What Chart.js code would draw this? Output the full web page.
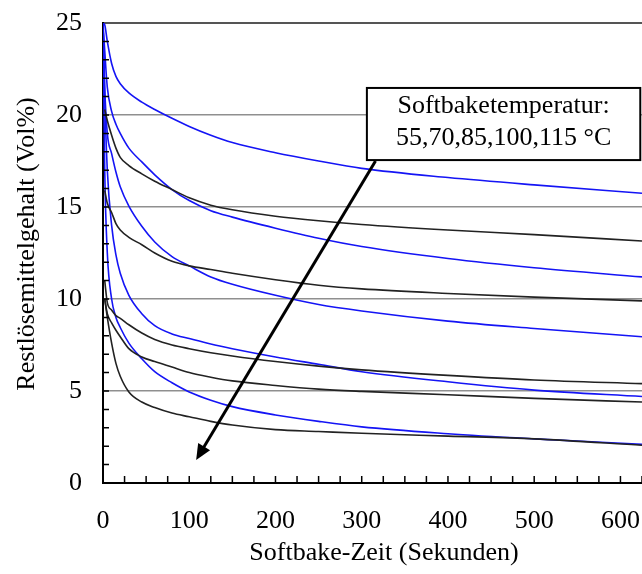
<!DOCTYPE html>
<html>
<head>
<meta charset="utf-8">
<script src="https://cdn.jsdelivr.net/npm/chart.js@4"></script>
<style>
  body { margin: 0; background: #fff; }
  #wrap { width: 642px; height: 574px; }
</style>
</head>
<body>
<div id="wrap"><canvas id="chart"></canvas></div>
<script>
// Softbake-Zeit (Sekunden)
var zeiten = [0, 2, 5, 10, 15, 20, 30, 45, 60, 80, 100, 125, 150, 200, 250, 300, 400, 500, 625]

// Restlösemittelgehalt (Vol%) - blaue Kurven
var blau1 = [25, 24.9, 24.0, 22.8, 22.1, 21.7, 21.2, 20.7, 20.3, 19.82, 19.38, 18.9, 18.5, 17.95, 17.5, 17.1, 16.6, 16.2, 15.75]
var blau2 = [25, 23.5, 21.5, 20.2, 19.5, 19.0, 18.2, 17.45, 16.75, 15.95, 15.35, 14.8, 14.45, 13.85, 13.3, 12.85, 12.2, 11.7, 11.2]
var blau3 = [25, 21.5, 19.0, 17.9, 16.9, 16.1, 15.05, 13.95, 13.1, 12.3, 11.8, 11.2, 10.8, 10.2, 9.7, 9.35, 8.8, 8.4, 7.95]
var blau4 = [25, 21, 17.0, 14.0, 12.4, 11.4, 10.2, 9.2, 8.55, 8.1, 7.85, 7.55, 7.3, 6.85, 6.45, 6.05, 5.5, 5.05, 4.7]
var blau5 = [25, 17, 12.5, 10.0, 9.0, 8.45, 7.6, 6.75, 6.05, 5.45, 4.95, 4.5, 4.15, 3.7, 3.35, 3.05, 2.68, 2.4, 2.1]

// schwarze Kurven
var schwarz1 = [null, 20.3, 19.7, 18.9, 18.2, 17.7, 17.25, 16.8, 16.4, 15.95, 15.5, 15.1, 14.85, 14.5, 14.25, 14.05, 13.75, 13.5, 13.15]
var schwarz2 = [null, 15.9, 15.2, 14.7, 14.1, 13.75, 13.35, 12.95, 12.5, 12.05, 11.8, 11.6, 11.4, 11.05, 10.75, 10.55, 10.3, 10.1, 9.9]
var schwarz3 = [null, 11.0, 9.8, 9.4, 9.1, 8.95, 8.6, 8.15, 7.8, 7.5, 7.3, 7.08, 6.9, 6.6, 6.35, 6.15, 5.85, 5.6, 5.4]
var schwarz4 = [null, 10.0, 9.2, 8.7, 8.3, 7.95, 7.3, 6.85, 6.6, 6.3, 6.0, 5.75, 5.55, 5.3, 5.1, 4.98, 4.8, 4.6, 4.4]
var schwarz5 = [null, 10.0, 9.0, 7.6, 6.5, 5.8, 4.95, 4.4, 4.1, 3.8, 3.6, 3.35, 3.15, 2.9, 2.8, 2.7, 2.55, 2.4, 2.05]

var yTicks = [0, 5, 10, 15, 20, 25]
var xTicks = [0, 100, 200, 300, 400, 500, 600]

var FONT = "'Liberation Serif', 'Times New Roman', serif"

function punkte(werte) {
  return zeiten.map(function (t, i) { return { x: t, y: werte[i] } })
}

function kurve(werte, farbe) {
  return {
    data: punkte(werte),
    borderColor: farbe,
    borderWidth: 1.6,
    pointRadius: 0,
    fill: false,
    cubicInterpolationMode: 'monotone',
    spanGaps: true,
  }
}

var BLAU = '#1414f5'
var SCHWARZ = '#222'

// kleine Teilstriche nach innen, Achsentitel, Pfeil und Textkasten
var extras = {
  id: 'extras',
  afterDatasetsDraw: function (chart) {
    var ctx = chart.ctx
    var xs = chart.scales.x
    var ys = chart.scales.y
    var area = chart.chartArea
    ctx.save()
    ctx.strokeStyle = '#000'
    ctx.lineWidth = 1.5
    ctx.beginPath()
    for (var v = 25; v <= 625; v += 25) {
      var px = xs.getPixelForValue(v)
      ctx.moveTo(px, area.bottom)
      ctx.lineTo(px, area.bottom - 7)
    }
    for (var w = 1; w < 25; w++) {
      var py = ys.getPixelForValue(w)
      ctx.moveTo(area.left, py)
      ctx.lineTo(area.left + 6, py)
    }
    ctx.stroke()

    // Achsentitel
    ctx.fillStyle = '#000'
    ctx.font = '26px ' + FONT
    ctx.textAlign = 'center'
    ctx.textBaseline = 'middle'
    ctx.fillText('Softbake-Zeit (Sekunden)', 384, 553)
    ctx.save()
    ctx.translate(27, 244)
    ctx.rotate(-Math.PI / 2)
    ctx.fillText('Restlösemittelgehalt (Vol%)', 0, 0)
    ctx.restore()

    // Pfeil
    var x0 = xs.getPixelForValue(316), y0 = ys.getPixelForValue(17.5)
    var x1 = xs.getPixelForValue(108), y1 = ys.getPixelForValue(1.25)
    var ang = Math.atan2(y1 - y0, x1 - x0)
    var head = 17
    ctx.strokeStyle = '#000'
    ctx.lineWidth = 3
    ctx.beginPath()
    ctx.moveTo(x0, y0)
    ctx.lineTo(x1 - Math.cos(ang) * head * 0.8, y1 - Math.sin(ang) * head * 0.8)
    ctx.stroke()
    ctx.beginPath()
    ctx.moveTo(x1, y1)
    ctx.lineTo(x1 - head * Math.cos(ang - 0.42), y1 - head * Math.sin(ang - 0.42))
    ctx.lineTo(x1 - head * Math.cos(ang + 0.42), y1 - head * Math.sin(ang + 0.42))
    ctx.closePath()
    ctx.fill()

    // Textkasten
    var bx0 = xs.getPixelForValue(306), by0 = ys.getPixelForValue(21.47)
    var bx1 = xs.getPixelForValue(623), by1 = ys.getPixelForValue(17.55)
    ctx.fillStyle = '#fff'
    ctx.fillRect(bx0, by0, bx1 - bx0, by1 - by0)
    ctx.lineWidth = 2
    ctx.strokeStyle = '#000'
    ctx.strokeRect(bx0, by0, bx1 - bx0, by1 - by0)
    ctx.fillStyle = '#000'
    var cx = (bx0 + bx1) / 2
    ctx.fillText('Softbaketemperatur:', cx, by0 + 18)
    ctx.fillText('55,70,85,100,115 °C', cx, by0 + 50)
    ctx.restore()
  },
}

var ctx = document.getElementById('chart')
new Chart(ctx, {
  type: 'line',
  data: {
    datasets: [
      kurve(schwarz1, SCHWARZ),
      kurve(schwarz2, SCHWARZ),
      kurve(schwarz3, SCHWARZ),
      kurve(schwarz4, SCHWARZ),
      kurve(schwarz5, SCHWARZ),
      kurve(blau1, BLAU),
      kurve(blau2, BLAU),
      kurve(blau3, BLAU),
      kurve(blau4, BLAU),
      kurve(blau5, BLAU),
    ],
  },
  options: {
    responsive: true,
    maintainAspectRatio: false,
    animation: false,
    layout: { padding: { top: 23, right: 0, left: 0, bottom: 0 } },
    plugins: {
      legend: { display: false },
      tooltip: { enabled: false },
    },
    scales: {
      x: {
        type: 'linear',
        min: 0,
        max: 625,
        afterFit: function (s) { s.height = 91; s.paddingRight = 0; s.paddingLeft = 0 },
        afterBuildTicks: function (s) { s.ticks = xTicks.map(function (v) { return { value: v } }) },
        grid: { display: false, drawTicks: false },
        border: { display: true, color: '#000', width: 2 },
        ticks: { color: '#000', padding: 23, maxRotation: 0, font: { family: FONT, size: 26 } },
      },
      y: {
        min: 0,
        max: 25,
        afterFit: function (s) { s.width = 103; s.paddingTop = 0; s.paddingBottom = 0 },
        afterBuildTicks: function (s) { s.ticks = yTicks.map(function (v) { return { value: v } }) },
        grid: {
          drawTicks: false,
          color: function (c) {
            if (c.tick.value === 25) return '#555'
            if (c.tick.value === 0) return 'rgba(0,0,0,0)'
            return '#8f8f8f'
          },
          lineWidth: function (c) { return c.tick.value === 25 ? 2 : 1.5 },
        },
        border: { display: true, color: '#000', width: 2 },
        ticks: { color: '#000', padding: 21, font: { family: FONT, size: 26 } },
      },
    },
  },
  plugins: [extras],
})
</script>
</body>
</html>
